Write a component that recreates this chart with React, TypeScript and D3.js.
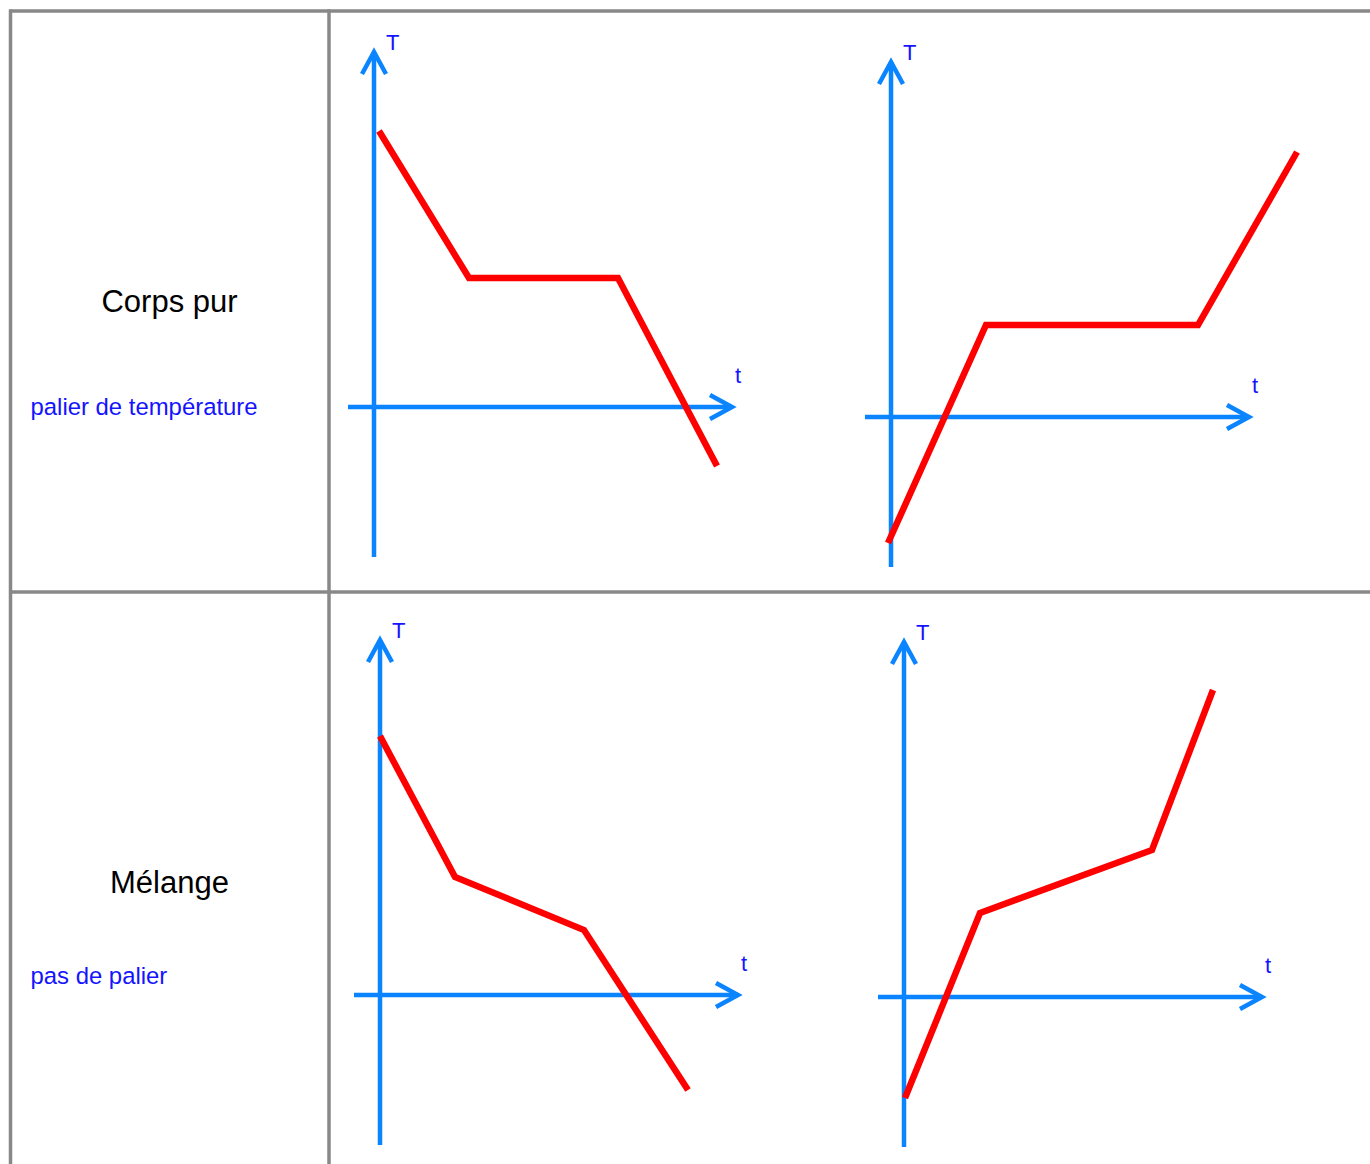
import * as d3 from 'd3';

// rows of the table
const rowNames = ['Corps pur', 'Mélange'];
const rowNotes = ['palier de température', 'pas de palier'];

// axis extents (t, T) shared by all four sketches
const tExtent: [number, number] = [-2.6, 36.3];
const TExtent: [number, number] = [-15, 36];

// cooling / heating curves, [t, T]
const coolingPure = [[0.5, 27.6], [9.5, 12.9], [24.4, 12.9], [34.3, -5.9]];
const heatingPure = [[-0.3, -12.6], [9.5, 9.2], [30.7, 9.2], [40.6, 26.5]];
const coolingMix = [[0, 25.9], [7.5, 11.8], [20.4, 6.5], [30.8, -9.5]];
const heatingMix = [[0.1, -10.1], [7.6, 8.4], [24.8, 14.7], [30.9, 30.7]];

const W = 1370;
const H = 1164;
const AXIS = '#0a84ff';
const LABEL = '#1414ff';
const GRID = '#888';
const FONT = '"Liberation Sans", Arial, sans-serif';

// where each sketch's origin sits on the page
const panels = [
  { ox: 374, oy: 407, data: coolingPure },
  { ox: 891, oy: 417, data: heatingPure },
  { ox: 380, oy: 995, data: coolingMix },
  { ox: 904, oy: 997, data: heatingMix },
];

const Panel = ({ ox, oy, data }: { ox: number; oy: number; data: number[][] }) => {
  const x = d3.scaleLinear().domain(tExtent).range([ox - 26, ox + 363]);
  const y = d3.scaleLinear().domain(TExtent).range([oy + 150, oy - 360]);
  const line = d3.line<number[]>().x(d => x(d[0])).y(d => y(d[1]));

  const hx = x(tExtent[1]) - 5; // arrow vertex (miter pokes out ~5px)
  const vy = y(TExtent[1]) + 5;
  const x0 = x(0);
  const y0 = y(0);

  return (
    <g>
      <g stroke={AXIS} strokeWidth={4.5} fill="none" strokeLinejoin="miter">
        <line x1={x(tExtent[0])} y1={y0} x2={hx} y2={y0} />
        <path d={`M${hx - 22},${y0 - 12}L${hx},${y0}L${hx - 22},${y0 + 12}`} />
        <line x1={x0} y1={y(TExtent[0])} x2={x0} y2={vy} />
        <path d={`M${x0 - 12},${vy + 22}L${x0},${vy}L${x0 + 12},${vy + 22}`} />
      </g>
      <path d={line(data) ?? ''} stroke="#ff0000" strokeWidth={6.5} fill="none" strokeLinejoin="miter" />
      <text x={x0 + 12} y={y(TExtent[1]) + 3} fill={LABEL} fontSize={22} fontFamily={FONT}>T</text>
      <text x={x(tExtent[1]) + 1} y={y0 - 24} fill={LABEL} fontSize={22} fontFamily={FONT} textAnchor="middle">t</text>
    </g>
  );
};

export default function App() {
  const rowY = [11, 592];
  return (
    <svg width={W} height={H} style={{ position: 'absolute', left: 0, top: 0 }}>
      <rect width={W} height={H} fill="#fff" />
      <g stroke={GRID} strokeWidth={3.5}>
        <line x1={10.5} y1={rowY[0]} x2={W} y2={rowY[0]} />
        <line x1={10.5} y1={rowY[1]} x2={W} y2={rowY[1]} />
        <line x1={10.5} y1={rowY[0] - 1.75} x2={10.5} y2={H} />
        <line x1={329} y1={rowY[0] - 1.75} x2={329} y2={H} />
      </g>
      {rowNames.map((name, i) => (
        <g key={name} fontFamily={FONT}>
          <text x={169.5} y={[312, 893][i]} fontSize={31} textAnchor="middle" fill="#000">{name}</text>
          <text x={30.5} y={[415, 984][i]} fontSize={23.9} fill={LABEL}>{rowNotes[i]}</text>
        </g>
      ))}
      {panels.map((p, i) => <Panel key={i} {...p} />)}
    </svg>
  );
}
